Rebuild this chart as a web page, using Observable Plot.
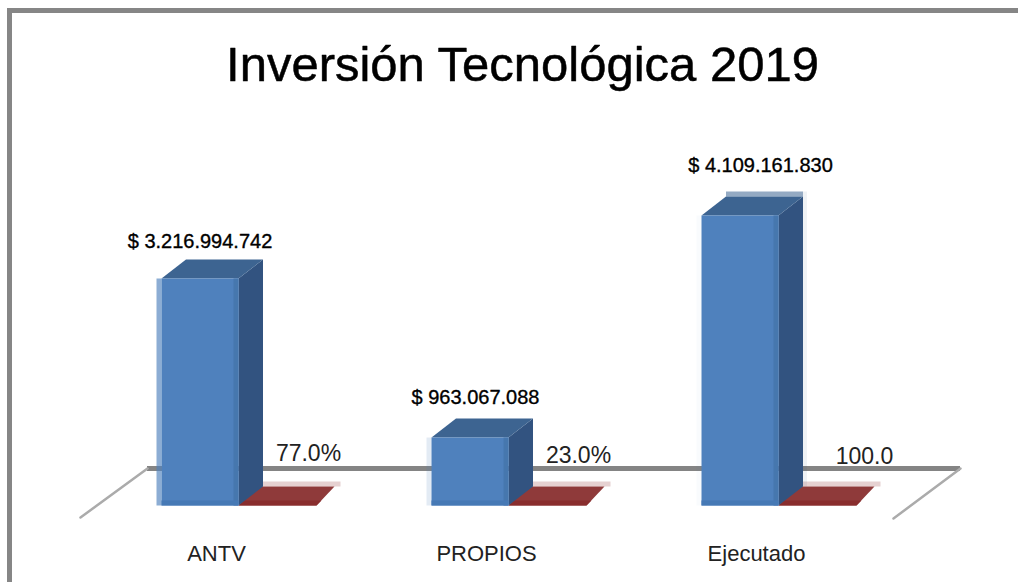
<!DOCTYPE html>
<html><head><meta charset="utf-8">
<script src="https://cdn.jsdelivr.net/npm/d3@7"></script>
<script src="https://cdn.jsdelivr.net/npm/@observablehq/plot@0.6"></script>
<style>
html,body{margin:0;padding:0;background:#fff;overflow:hidden}
#wrap{position:relative;width:1018px;height:582px}
#wrap svg{display:block;position:absolute;left:0;top:0;background:transparent}
#edge{position:absolute;left:7px;top:8px;right:0;bottom:0;border-left:5px solid #868686;border-top:5px solid #868686}
</style></head><body>
<div id="wrap"><div id="edge"></div></div>
<script>
const title = "Inversión Tecnológica 2019";
const categories = ["ANTV", "PROPIOS", "Ejecutado"];
const amounts = [3216994742, 963067088, 4109161830];
const amountLabels = ["$ 3.216.994.742", "$ 963.067.088", "$ 4.109.161.830"];
const shares = [0.77, 0.23, 1];
const shareLabels = ["77.0%", "23.0%", "100.0"];

// Layout constants (styling only), in screen pixels
const K = 14.17e6, STEP = 270, ORIGIN = 199.5;
const u = px => px / STEP, v = px => px * K;
const HALF = 38.5, DX = 24.5, DY = 19;
const amountOffset = [[0, 37], [5.5, 40], [20.5, 50]];
const shareOffset = [[108.5, 52], [108.5, 50], [124.5, 49]];
const leftFringe = [0.65, 0.16, 0.03], topFringe = [0, 0, 0.55], rightFringe = [0, 0, 0.08];

const idx = categories.map((_, i) => i);
function poly(fill, fn, opacity = 1) {
  const pts = idx.flatMap(i => fn(i).map(([x, y]) => ({i, x, y})));
  return Plot.line(pts, {x: "x", y: "y", z: "i", fill, stroke: "none",
    fillOpacity: opacity === 1 ? 1 : d => opacity[d.i]});
}
const box = (x0, x1, y0, y1) => [[x0, y0], [x1, y0], [x1, y1], [x0, y1]];

const marks = [
  // floor
  Plot.ruleY([v(37)], {x1: u(147 - ORIGIN), x2: u(960 - ORIGIN), stroke: "#848484", strokeWidth: 5}),
  Plot.line([[147, 37], [80, -12]], {x: d => u(d[0] - ORIGIN), y: d => v(d[1]), stroke: "#ababab", strokeWidth: 2.5}),
  Plot.line([[960, 37], [893, -13]], {x: d => u(d[0] - ORIGIN), y: d => v(d[1]), stroke: "#ababab", strokeWidth: 2.5}),
  // share bars (almost flat, lying on the floor)
  poly("#e6d1d1", i => box(i + u(HALF + 24), i + u(HALF + 102), v(19), v(24) + shares[i])),
  poly("#8f3a3a", i => [[i + u(HALF), shares[i]], [i + u(HALF + 78), shares[i]], [i + u(HALF + 96), v(19)], [i + u(HALF + 19), v(19)]]),
  poly("#892d2d", i => [[i + u(HALF), 0], [i + u(HALF + 78), 0], [i + u(HALF + 83), v(5)], [i + u(HALF + 5), v(5)]]),
  // amount bars: fringes, side, top, front
  poly("#4f81bd", i => box(i - u(HALF + 5), i - u(HALF), 0, amounts[i]), leftFringe),
  poly("#325380", i => box(i + u(HALF + DX), i + u(HALF + DX + 4), v(DY), amounts[i] + v(DY + 5)), rightFringe),
  poly("#3d6491", i => box(i - u(HALF) + u(DX), i + u(HALF) + u(DX), amounts[i] + v(DY), amounts[i] + v(DY + 5)), topFringe),
  poly("#325380", i => [[i + u(HALF), 0], [i + u(HALF + DX), v(DY)], [i + u(HALF + DX), amounts[i] + v(DY)], [i + u(HALF), amounts[i]]]),
  poly("#3d6491", i => [[i - u(HALF), amounts[i]], [i + u(HALF), amounts[i]], [i + u(HALF + DX), amounts[i] + v(DY)], [i - u(HALF - DX), amounts[i] + v(DY)]]),
  poly("#4f81bd", i => box(i - u(HALF), i + u(HALF), 0, amounts[i])),
  poly("#4677ae", i => box(i + u(HALF - 5), i + u(HALF), 0, amounts[i])),
  poly("#4679b5", i => box(i - u(HALF), i + u(HALF), 0, v(5))),
  // labels
  Plot.text(idx, {x: i => i + u(amountOffset[i][0]), y: i => amounts[i] + v(amountOffset[i][1]), text: i => amountLabels[i],
    fontSize: 20, fill: "#000", stroke: "#000", strokeWidth: 0.35, fontFamily: "Liberation Sans"}),
  Plot.text(idx, {x: i => i + u(shareOffset[i][0]), y: i => shares[i] + v(shareOffset[i][1]), text: i => shareLabels[i],
    fontSize: 23, fill: "#222", fontFamily: "Liberation Sans"}),
  Plot.axisX({anchor: "bottom", ticks: idx, tickFormat: i => categories[i], tickSize: 0, tickPadding: 3, dx: 16.5,
    fontSize: 22, color: "#222", fontFamily: "Liberation Sans", label: null}),
  // title
  Plot.text([title], {frameAnchor: "top", dy: 46, dx: 13, fontSize: 49, fill: "#000", stroke: "#000", strokeWidth: 0.5, fontFamily: "Liberation Sans", lineAnchor: "top"})
];

const chart = Plot.plot({
  width: 1018, height: 582,
  marginLeft: 0, marginRight: 0, marginTop: 0, marginBottom: 40,
  x: {domain: [u(0 - ORIGIN), u(1018 - ORIGIN)], axis: null},
  y: {domain: [v(-37), v(505)], axis: null},
  style: {background: "transparent"},
  marks
});
document.getElementById("wrap").appendChild(chart);
</script>
</body></html>
